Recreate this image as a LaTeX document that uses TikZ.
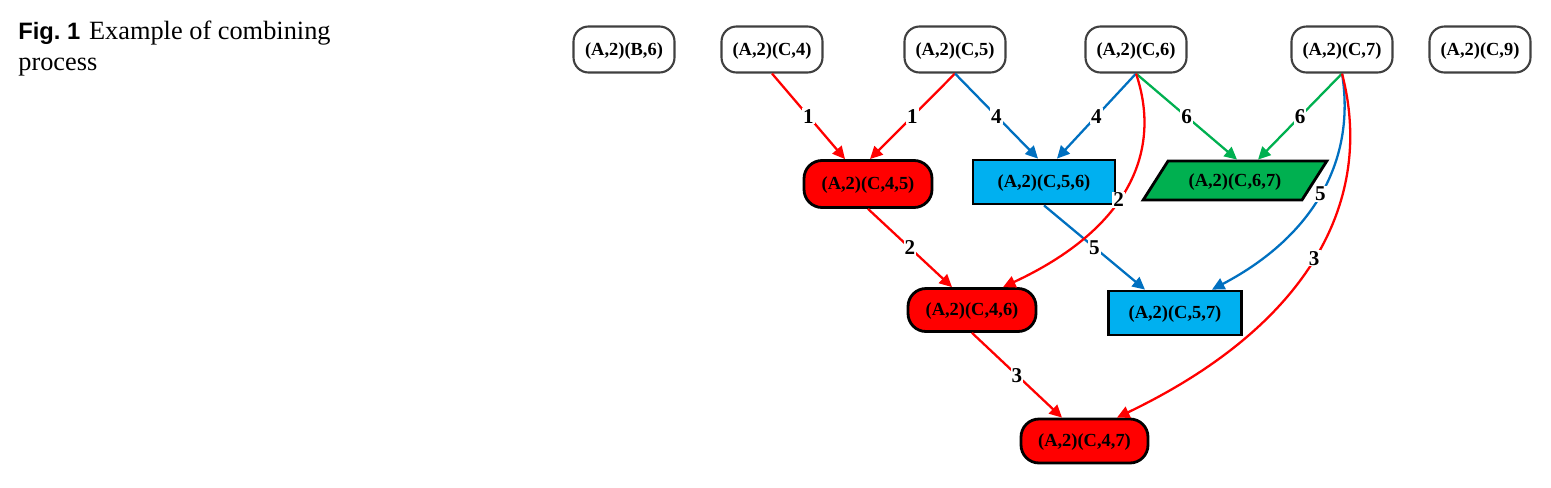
\documentclass[tikz,border=0pt]{standalone}
\usepackage{fontspec}
\setmainfont{Liberation Serif}
\setsansfont{Liberation Sans}
\usetikzlibrary{arrows.meta,shapes.geometric,calc}
\definecolor{rd}{RGB}{255,0,0}
\definecolor{sky}{RGB}{0,176,240}
\definecolor{grn}{RGB}{0,176,80}
\definecolor{blu}{RGB}{0,112,192}
\tikzset{
  >={Triangle[length=2.5mm,width=2.4mm]},
  setfont/.style={font=\fontsize{10.5}{12}\selectfont\bfseries,text height=0.82em,text depth=0.16em},
  single/.style={draw=black!75,line width=1.2pt,fill=white,rounded corners=0.3cm,
    minimum width=2.02cm,minimum height=0.92cm,inner sep=0pt,setfont},
  redset/.style={draw=black,line width=1.6pt,fill=rd,rounded corners=0.36cm,
    minimum width=2.56cm,minimum height=#1,inner sep=0pt,setfont},
  redset/.default=0.9cm,
  blueset/.style={draw=black,line width=1.6pt,fill=sky,minimum width=#1,
    minimum height=0.88cm,inner sep=0pt,setfont},
  greenset/.style={trapezium,trapezium left angle=45,trapezium right angle=135,
    trapezium stretches=true,draw=black,line width=1.6pt,fill=grn,minimum width=3.68cm,
    minimum height=0.78cm,inner sep=0pt,setfont},
  flow/.style={->,line width=1.3pt,draw=#1},
  num/.style={fill=white,inner sep=0.6pt,font=\fontsize{12}{12}\selectfont\bfseries},
  capt/.style={anchor=base west,inner sep=0pt,font=\fontsize{15}{17}\selectfont},
}

\begin{document}
\begin{tikzpicture}[x=0.02cm,y=-0.02cm]
  \useasboundingbox (0,0) rectangle (1551,487);
  % caption
  \node[capt] (cap) at (18,39) {{\fontsize{13.5}{17}\selectfont\sffamily\bfseries Fig.~1}\hspace{5pt}Example of combining};
  \node[capt] (capb) at (18,70) {process};
  % single pairs
  \foreach \n/\t/\x in {b6/{B,6}/624, c4/{C,4}/772, c5/{C,5}/955, c6/{C,6}/1136, c7/{C,7}/1342, c9/{C,9}/1480}
    \node[single] (\n) at (\x,49.5) {(A,2)(\t)};
  % combined sets
  \node[redset=0.94cm] (c45) at (868,184) {(A,2)(C,4,5)};
  \node[blueset=2.84cm] (c56) at (1044,182) {(A,2)(C,5,6)};
  \node[greenset] (c67) at (1235,180.5) {(A,2)(C,6,7)};
  \node[redset=0.86cm] (c46) at (972,310) {(A,2)(C,4,6)};
  \node[blueset=2.66cm] (c57) at (1175,313) {(A,2)(C,5,7)};
  \node[redset=0.88cm,minimum width=2.54cm] (c47) at (1084.5,441) {(A,2)(C,4,7)};
  % links
  \draw[flow=rd] (c4.south) -- node[num] {1} ([xshift=-0.46cm]c45.north);
  \draw[flow=rd] (c5.south) -- node[num] {1} ([xshift=0.04cm]c45.north);
  \draw[flow=blu] (c5.south) -- node[num] {4} ([xshift=-0.12cm]c56.north);
  \draw[flow=blu] (c6.south) -- node[num] {4} ([xshift=0.26cm]c56.north);
  \draw[flow=grn] (c6.south) -- node[num] {6} ([xshift=0.04cm]c67.north);
  \draw[flow=grn] (c7.south) -- node[num] {6} ([xshift=0.46cm]c67.north);
  \draw[flow=rd] (c45.south) -- node[num] {2} ([xshift=-0.4cm]c46.north);
  \draw[flow=blu] (c56.south) -- node[num] {5} ([xshift=-0.6cm]c57.north);
  \draw[flow=rd] (c46.south) -- node[num] {3} ([xshift=-0.45cm]c47.north);
  \draw[flow=rd] (c6.south) .. controls (1162,150) and (1130,228) .. ([xshift=0.62cm]c46.north) node[num,pos=0.56] {2};
  \draw[flow=blu] (c7.south) .. controls (1356,160) and (1314,236) .. ([xshift=0.74cm]c57.north) node[num,pos=0.5] {5};
  \draw[flow=rd] (c7.south) .. controls (1375,200) and (1310,325) .. ([xshift=0.65cm]c47.north) node[num,pos=0.5] {3};
\end{tikzpicture}
\end{document}
